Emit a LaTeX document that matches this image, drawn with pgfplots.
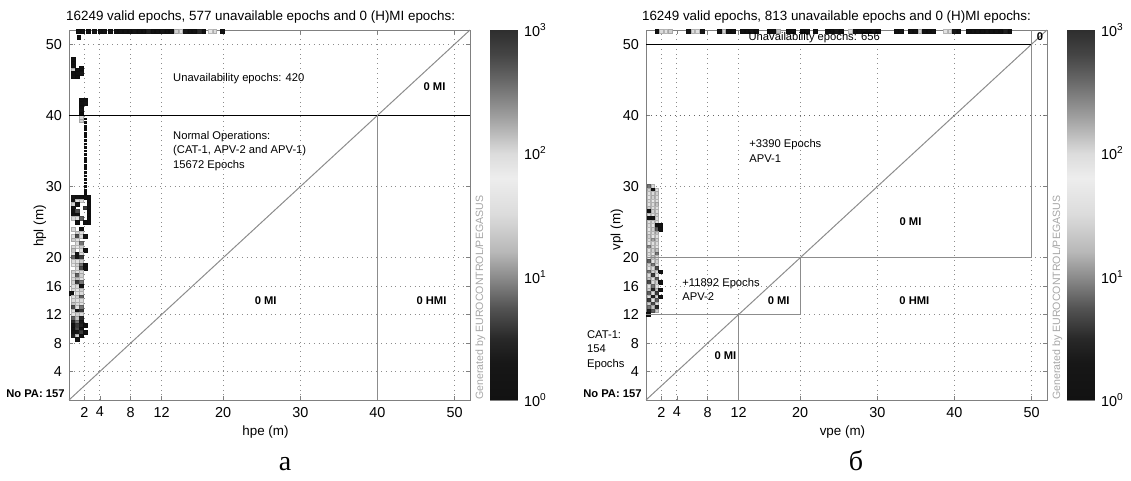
\documentclass[border=0pt]{standalone}
\usepackage{fontspec}
\setmainfont{Liberation Sans}
\newfontfamily\capfont{Liberation Serif}
\usepackage{pgfplots}
\pgfplotsset{compat=1.18}

\newcommand\ann{\fontsize{5.6}{7.2}\selectfont}
\newcommand\lab{\fontsize{6.7}{8}\selectfont}
\newcommand\tk{\fontsize{7.2}{8}\selectfont}

\pgfplotsset{
  colormap={jetgray}{gray(0cm)=(0.07); gray(3cm)=(0.09); gray(5cm)=(0.16);
    gray(7.5cm)=(0.33); gray(10cm)=(0.55); gray(12cm)=(0.72); gray(15cm)=(0.86);
    gray(18cm)=(0.93); gray(20cm)=(0.86); gray(23cm)=(0.62); gray(26cm)=(0.4);
    gray(28cm)=(0.27); gray(30cm)=(0.18)},
  stanford/.style={
    scale only axis, width=200.5pt, height=185pt,
    xmin=0, xmax=52, ymin=0, ymax=52,
    xtick={2,4,8,12,20,30,40,50},
    ytick={4,8,12,16,20,30,40,50},
    grid=major,
    major grid style={dotted, black!45},
    axis line style={black!50},
    tick style={black!50},
    tick align=inside, major tick length=2pt,
    ticklabel style={font=\tk},
    /pgf/number format/assume math mode=true,
    clip mode=individual,
    colormap name=jetgray,
    point meta min=0, point meta max=3,
  },
  cbar/.style={
    scale only axis, width=13.5pt, height=185pt,
    xmin=0, xmax=1, ymin=0, ymax=3,
    xtick=\empty, ytick={0,1,2,3},
    yticklabels={10\textsuperscript{0},10\textsuperscript{1},10\textsuperscript{2},10\textsuperscript{3}},
    yticklabel pos=right,
    yticklabel style={font=\tk},
    axis line style={black!50},
    tick style={black!50},
    tick align=inside, major tick length=2pt,
    colormap name=jetgray,
    point meta min=0, point meta max=3,
  },
  cells/.style={scatter, only marks, mark=square*, mark size=0.9pt, point meta=explicit},
  thincells/.style={scatter, only marks, mark=square*, mark size=0.45pt, point meta=explicit},
}

\begin{document}
\begin{tikzpicture}
\useasboundingbox (0,0) rectangle (565.5pt,240.5pt);

% ---------- a: horizontal ----------
\begin{axis}[stanford, at={(34.5pt,40.5pt)}, anchor=south west]
\addplot[cells] table[x=x, y=y, meta=m]{
x y m
1.2 51.8 0
1.8 51.8 0
2.5 51.8 0
3.3 51.8 0.3
4.0 51.8 0
4.6 51.8 0
5.4 51.8 0
6.1 51.8 0
6.7 51.8 0
7.3 51.8 0
7.9 51.8 0
8.5 51.8 0.2
9.1 51.8 0
9.7 51.8 0
10.3 51.8 0.4
10.9 51.8 0
11.5 51.8 0
12.1 51.8 0.2
12.7 51.8 0
13.3 51.8 0
13.9 51.8 1.4
14.5 51.8 1.6
15.1 51.8 0.3
15.7 51.8 0
16.3 51.8 0
16.9 51.8 0.5
17.5 51.8 0
18.3 51.8 1.7
18.9 51.8 1.5
19.9 51.8 0
1.3 51.0 0
0.6 47.9 0
0.6 47.4 0
0.6 46.9 0.2
0.6 46.4 1.4
1.1 46.4 0
1.6 46.6 0
0.6 45.9 0
1.1 45.9 0
1.6 45.9 0.3
0.6 45.4 0.2
1.1 45.4 0
1.6 42.2 0
2.1 42.2 0
1.6 41.7 0
2.1 41.7 0.2
1.6 41.2 0
1.6 40.7 0.3
1.6 40.2 0
1.6 39.7 1.5
1.6 39.2 1.4
0.6 28.5 0.2
1.1 28.5 0
1.6 28.5 0
2.1 28.5 0
2.6 28.5 0
0.6 28.0 0
1.1 28.0 1.5
1.6 28.0 1.6
2.6 28.0 0
0.6 27.5 1.4
1.1 27.5 0
2.6 27.5 0
0.6 27.0 0
2.1 27.0 0.6
2.6 27.0 0
0.6 26.5 0
1.1 26.5 0.7
2.6 26.5 0
0.6 26.0 0
1.1 26.0 0
2.6 26.0 0
0.6 25.5 1.5
1.1 25.5 1.6
1.6 25.5 0.8
2.6 25.5 0
1.1 25.0 0
2.1 25.0 0
2.6 25.0 0
0.6 24.0 1.5
1.6 24.0 0
1.1 23.5 1.4
1.6 23.5 1.6
0.6 23.0 1.6
1.1 23.0 0.7
1.6 23.0 1.5
2.1 23.0 0.2
0.6 22.5 1.4
1.1 22.5 1.6
1.1 22.0 1.5
1.6 22.0 0.9
0.6 21.5 1.5
1.1 21.5 1.7
1.6 21.5 1.4
0.6 21.0 1.3
1.6 21.0 1.6
2.1 21.0 0
0.6 20.5 1.6
1.1 20.5 0
1.6 20.5 1.5
0.6 20.0 0.8
1.1 20.0 0
1.6 20.0 0.6
0.6 19.5 1.5
1.1 19.5 1.6
1.6 19.5 1.4
0.6 19.0 1.7
1.1 19.0 1.4
1.6 19.0 0.9
2.1 19.0 0
1.1 18.5 1.5
1.6 18.5 0.7
2.1 18.5 0
0.6 18.0 1.4
1.1 18.0 1.6
1.6 18.0 1.5
0.6 17.5 1.6
1.1 17.5 0.8
1.6 17.5 1.4
0.6 17.0 1.5
1.1 17.0 1.3
1.6 17.0 1.6
0.6 16.5 1.4
1.1 16.5 0.6
1.6 16.5 0.9
0.6 16.0 1.6
1.1 16.0 1.5
1.6 16.0 0
0.6 15.5 1.5
1.1 15.5 1.7
1.6 15.5 1.4
0.3 15.0 0
1.1 15.0 1.6
1.6 15.0 1.5
0.6 14.5 1.6
1.1 14.5 1.4
1.6 14.5 0.8
0.6 14.0 1.5
1.1 14.0 1.6
1.6 14.0 1.5
0.6 13.5 1.3
1.1 13.5 1.5
1.6 13.5 1.6
0.6 13.0 0.7
1.1 13.0 1.6
1.6 13.0 0.9
0.6 12.5 1.5
1.1 12.5 0
1.6 12.5 0.6
0.6 12.0 1.6
1.1 12.0 1.4
1.6 12.0 1.5
0.6 11.5 0.8
1.1 11.5 1.3
1.6 11.5 0.5
0.6 11.0 0.5
1.1 11.0 0.9
1.6 11.0 0.3
0.6 10.5 0
1.1 10.5 0.6
1.6 10.5 0.4
2.1 10.5 0
0.6 10.0 0
1.1 10.0 0.7
1.6 10.0 0
0.6 9.5 0
1.1 9.5 0.3
1.6 9.5 0.6
2.1 9.5 0
0.6 9.0 0.4
1.1 9.0 1.4
1.6 9.0 0
1.1 8.5 0.3
};
\addplot[thincells] table[x=x, y=y, meta=m]{
x y m
2.1 39.5 0
2.1 39.0 0
2.1 38.5 0
2.1 38.0 0
2.1 37.5 0
2.1 37.0 0
2.1 36.5 0
2.1 36.0 0
2.1 35.5 0
2.1 35.0 0
2.1 34.5 0
2.1 34.0 0
2.1 33.5 0
2.1 33.0 0
2.1 32.5 0
2.1 32.0 0
2.1 31.5 0
2.1 31.0 0
2.1 30.5 0
2.1 30.0 0
2.1 29.5 0
2.1 29.0 0
};
\draw[black!45, line width=0.5pt] (axis cs:0,0) -- (axis cs:52,52);
\draw[black, line width=0.5pt] (axis cs:0,40) -- (axis cs:52,40);
\draw[black!45, line width=0.6pt] (axis cs:40,0) -- (axis cs:40,40);
\node[font=\ann, anchor=west, inner sep=1pt] at (axis cs:13.2,45.1) {Unavailability epochs: 420};
\node[font=\ann\bfseries] at (axis cs:47.4,44) {0 MI};
\node[font=\ann, anchor=west, align=left, inner sep=1pt] at (axis cs:13.2,35) {Normal Operations:\\(CAT-1, APV-2 and APV-1)\\15672 Epochs};
\node[font=\ann\bfseries] at (axis cs:25.5,14) {0 MI};
\node[font=\ann\bfseries] at (axis cs:47,14) {0 HMI};
\node[font=\ann\bfseries, anchor=east, inner sep=1pt] at ([xshift=-1pt]axis cs:0,0.9) {No PA: 157};
\node[rotate=90, anchor=north west, inner sep=0pt, font=\fontsize{5.3}{6}\selectfont, text=black!35] at ([xshift=2.5pt]rel axis cs:1,0) {Generated by EUROCONTROL/PEGASUS};
\node[font=\lab, anchor=south] at ([yshift=0pt]rel axis cs:0.478,1) {16249 valid epochs, 577 unavailable epochs and 0 (H)MI epochs:};
\node[font=\lab] at ([yshift=-16pt]rel axis cs:0.49,0) {hpe (m)};
\node[font=\lab, rotate=90] at ([xshift=-14.5pt]rel axis cs:0,0.47) {hpl (m)};
\end{axis}

\begin{axis}[cbar, at={(245pt,40.5pt)}, anchor=south west]
\addplot[surf, shader=interp, mesh/cols=2, point meta=y] coordinates {(0,0) (1,0) (0,3) (1,3)};
\node[font=\bfseries\fontsize{6.3}{7}\selectfont, rotate=90] at ([xshift=19pt]rel axis cs:1,0.5) {Number of Points per Pixel};
\end{axis}

% ---------- b: vertical ----------
\begin{axis}[stanford, at={(323pt,40.5pt)}, anchor=south west]
\addplot[cells] table[x=x, y=y, meta=m]{
x y m
1.4 51.8 0
2.0 51.8 1.5
2.6 51.8 1.6
3.2 51.8 1.4
5.5 51.8 0.2
6.1 51.8 1.5
6.7 51.8 1.6
7.3 51.8 0.3
9.5 51.8 0
10.1 51.8 1.4
10.7 51.8 0
11.3 51.8 0
12.5 51.8 0
13.1 51.8 0
13.7 51.8 0.2
14.3 51.8 0
16.0 51.8 0
16.6 51.8 0
17.2 51.8 1.3
18.5 51.8 0
19.1 51.8 0
20.3 51.8 0
20.9 51.8 0.2
22.0 51.8 0
23.5 51.8 0
24.1 51.8 0
24.7 51.8 0.3
25.3 51.8 0
26.5 51.8 1.5
27.1 51.8 0
27.7 51.8 0
28.3 51.8 0
28.9 51.8 0
29.5 51.8 0.3
30.1 51.8 0
32.5 51.8 0
33.1 51.8 0.2
34.3 51.8 0
34.9 51.8 0
35.5 51.8 1.4
36.1 51.8 0
36.7 51.8 0
37.3 51.8 0
38.8 51.8 1.6
39.4 51.8 1.5
40.0 51.8 0.3
40.6 51.8 0
41.8 51.8 0
42.4 51.8 0
43.0 51.8 0
43.6 51.8 0
44.2 51.8 0.2
44.8 51.8 0
45.4 51.8 0
46.0 51.8 0
46.6 51.8 0.4
47.2 51.8 0
0.4 30.0 0.9
0.9 30.0 1.5
0.4 29.5 1.4
0.9 29.5 0
1.4 29.5 1.6
0.4 29.0 1.6
0.9 29.0 1.5
1.4 29.0 1.4
0.4 28.5 1.7
0.9 28.5 1.4
1.4 28.5 1.5
0.4 28.0 1.5
0.9 28.0 1.7
1.4 28.0 1.6
0.4 27.5 1.6
0.9 27.5 1.5
1.4 27.5 1.3
0.4 27.0 1.4
0.9 27.0 1.6
1.4 27.0 1.6
0.4 26.5 0
0.9 26.5 1.4
1.4 26.5 1.5
0.4 26.0 1.5
0.9 26.0 1.6
1.4 26.0 1.4
0.4 25.5 0
0.9 25.5 0
1.4 25.5 1.5
0.4 25.0 1.6
0.9 25.0 1.5
1.4 25.0 1.6
0.4 24.5 1.5
0.9 24.5 1.7
1.4 24.5 0
1.9 24.5 0
0.4 24.0 1.7
0.9 24.0 1.4
1.4 24.0 0.8
1.9 24.0 0
0.4 23.5 1.6
0.9 23.5 1.5
1.4 23.5 1.3
0.4 23.0 1.4
0.9 23.0 1.7
1.4 23.0 1.6
0.4 22.5 1.5
0.9 22.5 1.1
1.4 22.5 1.4
0.4 22.0 1.7
0.9 22.0 1.6
1.4 22.0 1.5
0.4 21.5 1.0
0.9 21.5 1.5
1.4 21.5 1.7
0.4 21.0 1.6
0.9 21.0 1.4
1.4 21.0 1.3
0.4 20.5 1.5
0.9 20.5 1.7
1.4 20.5 0.9
0.4 20.0 1.7
0.9 20.0 1.3
1.4 20.0 1.5
0.4 19.5 0.8
0.9 19.5 1.6
1.4 19.5 1.4
0.4 19.0 1.4
0.9 19.0 0.9
1.4 19.0 1.6
0.4 18.5 1.6
0.9 18.5 1.5
1.4 18.5 0.7
0.4 18.0 0.9
0.9 18.0 1.4
1.4 18.0 1.5
1.9 18.0 0
0.4 17.5 1.5
0.9 17.5 0.6
1.4 17.5 1.7
0.4 17.0 1.3
0.9 17.0 1.6
1.4 17.0 0.8
0.4 16.5 0.7
0.9 16.5 1.5
1.4 16.5 1.4
1.9 16.5 0
0.4 16.0 1.6
0.9 16.0 0.9
1.4 16.0 1.6
0.4 15.5 1.4
0.9 15.5 0.5
1.4 15.5 1.3
1.9 15.5 0.3
0.4 15.0 0.8
0.9 15.0 1.5
1.4 15.0 0.6
0.4 14.5 1.5
0.9 14.5 0.4
1.4 14.5 1.4
1.9 14.5 0
0.4 14.0 0.6
0.9 14.0 1.6
1.4 14.0 0.8
0.4 13.5 1.4
0.9 13.5 0.7
1.4 13.5 1.5
0.4 13.0 0.9
0.9 13.0 1.3
1.4 13.0 0.5
0.4 12.5 0.4
0.9 12.5 0.8
1.4 12.5 1.4
0.3 12.0 0
};
\draw[black!45, line width=0.5pt] (axis cs:0,0) -- (axis cs:52,52);
\draw[black, line width=0.5pt] (axis cs:0,50) -- (axis cs:50,50);
\draw[black!60, dotted] (axis cs:0,40) -- (axis cs:52,40);
\draw[black!45, line width=0.6pt] (axis cs:50,52) -- (axis cs:50,20) -- (axis cs:0,20);
\draw[black!45, line width=0.6pt] (axis cs:0,12) -- (axis cs:20,12) -- (axis cs:20,20);
\draw[black!45, line width=0.6pt] (axis cs:12,0) -- (axis cs:12,12);
\node[font=\ann, anchor=west, inner sep=1pt] at (axis cs:13.0,51.0) {Unavailability epochs: 656};
\node[font=\ann\bfseries] at (axis cs:51.1,51) {0};
\node[font=\ann, anchor=west, align=left, inner sep=1pt] at (axis cs:13.1,35) {+3390 Epochs\\APV-1};
\node[font=\ann\bfseries] at (axis cs:34.3,25) {0 MI};
\node[font=\ann, anchor=west, align=left, inner sep=1pt] at (axis cs:4.4,15.5) {+11892 Epochs\\APV-2};
\node[font=\ann\bfseries] at (axis cs:17.2,14.0) {0 MI};
\node[font=\ann\bfseries] at (axis cs:34.8,14.0) {0 HMI};
\node[font=\ann\bfseries] at (axis cs:10.3,6.2) {0 MI};
\node[font=\ann, anchor=west, align=left] at ([xshift=-33pt]axis cs:0,7.0) {CAT-1:\\154\\Epochs};
\node[font=\ann\bfseries, anchor=east, inner sep=1pt] at ([xshift=-1pt]axis cs:0,0.9) {No PA: 157};
\node[rotate=90, anchor=north west, inner sep=0pt, font=\fontsize{5.3}{6}\selectfont, text=black!35] at ([xshift=2.5pt]rel axis cs:1,0) {Generated by EUROCONTROL/PEGASUS};
\node[font=\lab, anchor=south] at ([yshift=0pt]rel axis cs:0.475,1) {16249 valid epochs, 813 unavailable epochs and 0 (H)MI epochs:};
\node[font=\lab] at ([yshift=-16pt]rel axis cs:0.49,0) {vpe (m)};
\node[font=\lab, rotate=90] at ([xshift=-14.5pt]rel axis cs:0,0.46) {vpl (m)};
\end{axis}

\begin{axis}[cbar, at={(533.5pt,40.5pt)}, anchor=south west]
\addplot[surf, shader=interp, mesh/cols=2, point meta=y] coordinates {(0,0) (1,0) (0,3) (1,3)};
\node[font=\bfseries\fontsize{6.3}{7}\selectfont, rotate=90] at ([xshift=14.5pt]rel axis cs:1,0.5) {Number of Points per Pixel};
\end{axis}

\node[font=\capfont\fontsize{14}{14}\selectfont, anchor=base] at (142.5pt,5pt) {а};
\node[font=\capfont\fontsize{14}{14}\selectfont, anchor=base] at (428pt,5pt) {б};
\end{tikzpicture}
\end{document}
